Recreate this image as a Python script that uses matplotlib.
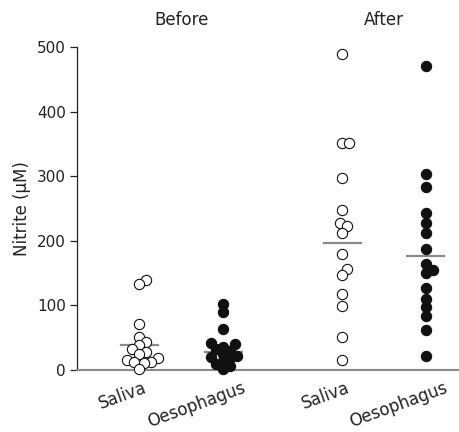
import numpy as np
import matplotlib
matplotlib.use("Agg")
import matplotlib.pyplot as plt

groups = ["Before", "After"]
categories = ["Saliva", "Oesophagus", "Saliva", "Oesophagus"]
positions = [1.0, 2.0, 3.42, 4.41]
filled = [False, True, False, True]

before_saliva = [139, 134, 71, 51, 43, 38, 33, 28, 25, 18, 15, 13, 12, 11, 2]
before_oeso = [102, 90, 64, 42, 40, 36, 33, 30, 25, 22, 20, 18, 14, 10, 6, 2]
after_saliva = [489, 352, 352, 297, 248, 228, 223, 213, 180, 156, 147, 117, 99, 51, 15]
after_oeso = [471, 303, 284, 243, 228, 212, 187, 164, 155, 150, 127, 110, 98, 84, 62, 22]
series = [before_saliva, before_oeso, after_saliva, after_oeso]
mean_lines = [38, 28, 197, 177]

yticks = [0, 100, 200, 300, 400, 500]

fig = plt.figure(figsize=(4.6, 4.32), dpi=100)
ax = fig.add_axes([77/460, 1-370/432, 1-77/460, (370-47.3)/432])
ax.set_xlim(0.26, 4.82)
ax.set_ylim(0, 500)

def swarm(vals, xc, diam_px):
    # simple beeswarm in pixel space
    pts = [ax.transData.transform((xc, v)) for v in vals]
    order = np.argsort([p[1] for p in pts])
    placed = []
    offs = [0.0]*len(vals)
    step = diam_px/3.0
    cands = [0.0]
    for k in range(1, 30):
        cands += [k*step, -k*step]
    for i in order:
        px, py = pts[i]
        for c in cands:
            ok = True
            for (qx, qy) in placed:
                if (px + c - qx)**2 + (py - qy)**2 < diam_px**2:
                    ok = False
                    break
            if ok:
                placed.append((px + c, py))
                offs[i] = c
                break
    inv = ax.transData.inverted()
    xs = [inv.transform((pts[i][0] + offs[i], pts[i][1]))[0] for i in range(len(vals))]
    return xs

for vals, xc, fill, m in zip(series, positions, filled, mean_lines):
    xs = swarm(vals, xc, 7.0)
    ax.plot(xs, vals, linestyle="none", marker="o", markersize=7.4,
            markerfacecolor="#111111" if fill else "white",
            markeredgecolor="#111111", markeredgewidth=0.8, zorder=3, clip_on=False)
    ax.plot([xc-0.22, xc+0.22], [m, m], color="#8a8a8a", lw=1.6, zorder=2)

ax.spines["top"].set_visible(False)
ax.spines["right"].set_visible(False)
ax.spines["left"].set_color("#222222")
ax.spines["left"].set_linewidth(0.9)
ax.spines["bottom"].set_color("#8a8a8a")
ax.spines["bottom"].set_linewidth(1.5)
ax.set_yticks(yticks)
ax.set_yticklabels([str(t) for t in yticks], fontsize=11, color="#222222")
ax.tick_params(axis="y", length=5, width=0.9, color="#222222", pad=3)
ax.set_xticks([])
ax.set_ylabel("Nitrite (µM)", fontsize=12, color="#222222", labelpad=4)

# category labels, rotated, centred a little left of each column
label_offsets = {"Saliva": (-17, -26), "Oesophagus": (-27, -35)}
for cat, xc in zip(categories, positions):
    ax.annotate(cat, xy=(xc, 0), xycoords="data", xytext=label_offsets[cat],
                textcoords="offset pixels", ha="center", va="center",
                rotation=20, rotation_mode="anchor", fontsize=12,
                color="#222222", annotation_clip=False)

for g, (a, b) in zip(groups, [(positions[0], positions[1]), (positions[2], positions[3])]):
    ax.text((a+b)/2, 1.085, g, transform=ax.get_xaxis_transform(), ha="center",
            va="center", fontsize=12, color="#222222")

fig.savefig("out.png", dpi=100)
